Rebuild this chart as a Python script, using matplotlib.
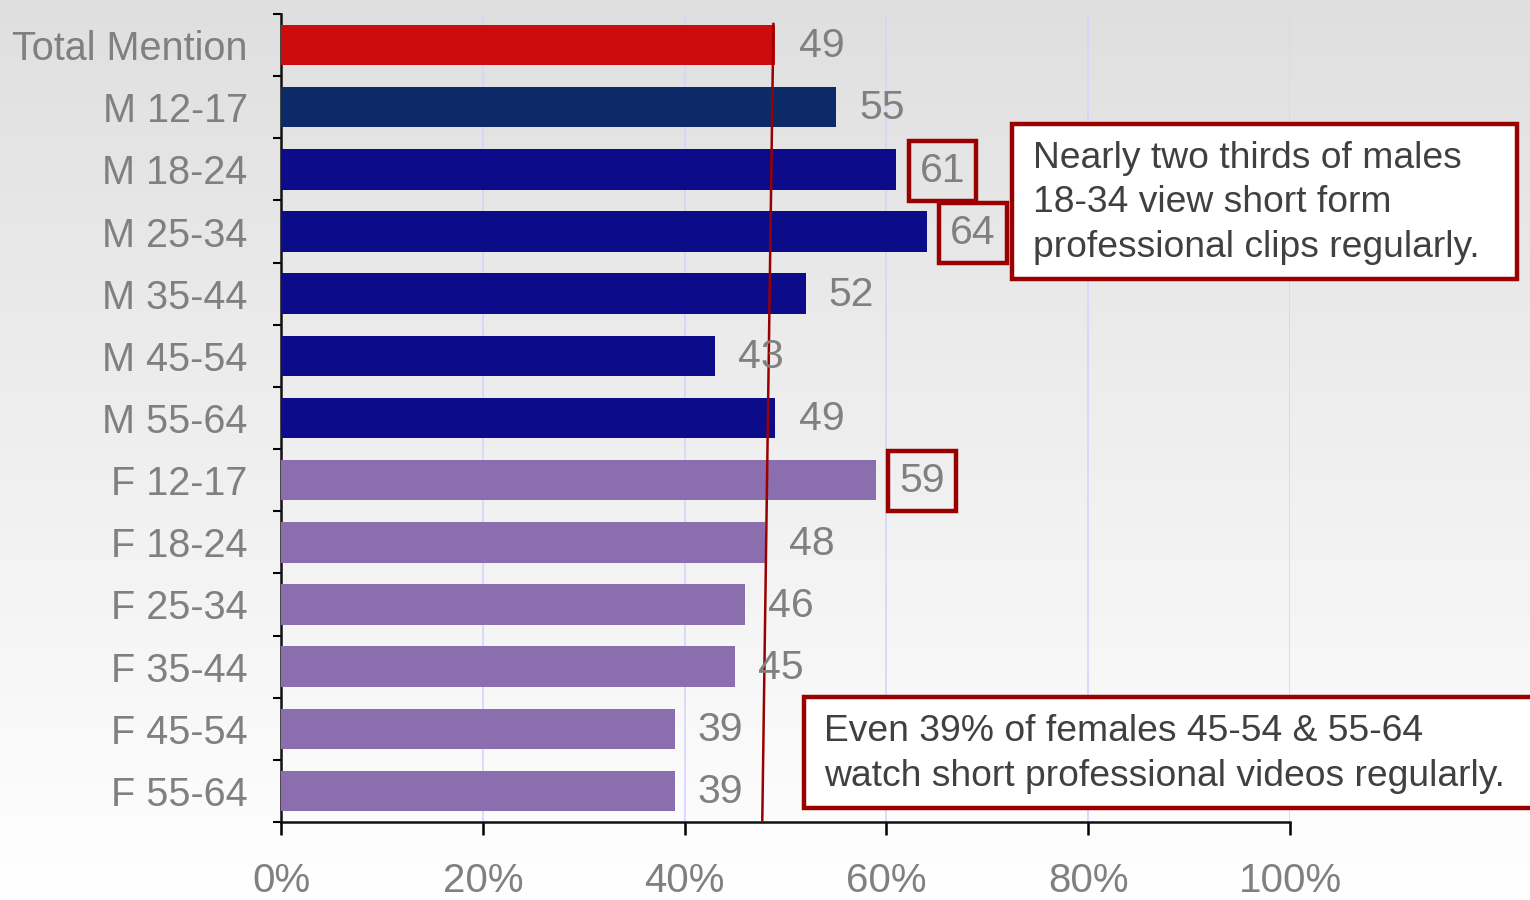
import matplotlib
matplotlib.use("Agg")
import matplotlib.pyplot as plt
import numpy as np
from matplotlib.patches import Rectangle

plt.rcParams['font.family'] = ['Liberation Sans', 'DejaVu Sans']

# datos
categorias = ["Total Mention", "M 12-17", "M 18-24", "M 25-34", "M 35-44", "M 45-54", "M 55-64",
              "F 12-17", "F 18-24", "F 25-34", "F 35-44", "F 45-54", "F 55-64"]
valores = [49, 55, 61, 64, 52, 43, 49, 59, 48, 46, 45, 39, 39]
colores = ["#CC0C0C", "#0C2A68"] + ["#0C0C8A"] * 5 + ["#8A6EAE"] * 6
destacados = ["M 18-24", "M 25-34", "F 12-17"]
linea_ref_x = [48.8, 47.7]
ticks_x = [0, 20, 40, 60, 80, 100]
ticks_x_labels = ["0%", "20%", "40%", "60%", "80%", "100%"]

nota_hombres = "Nearly two thirds of males\n18-34 view short form\nprofessional clips regularly."
nota_mujeres = "Even 39% of females 45-54 & 55-64\nwatch short professional videos regularly."

gris = "#808080"
rojo_borde = "#990000"

fig = plt.figure(figsize=(15.3, 9), dpi=100)

# fondo degradado gris -> blanco
bg = fig.add_axes([0, 0, 1, 1], zorder=-10)
grad = np.linspace(0.875, 1.0, 256).reshape(-1, 1)
bg.imshow(np.dstack([grad, grad, grad]), aspect="auto", extent=[0, 1, 0, 1])
bg.axis("off")

ax = fig.add_axes([281 / 1530, 1 - 822 / 900, (1290 - 281) / 1530, (822 - 14) / 900])
ax.set_facecolor("none")

y = np.arange(len(categorias))
ax.barh(y, valores, height=0.65, color=colores, zorder=3)

for xv in ticks_x[1:]:
    ax.axvline(xv, color="#d4d4ff", lw=1.2, zorder=1)

ax.plot(linea_ref_x, [-0.34, 12.47], color=rojo_borde, lw=1.8, zorder=4)

for yi, (cat, v) in enumerate(zip(categorias, valores)):
    kw = {}
    if cat in destacados:
        kw["bbox"] = dict(boxstyle="square,pad=0.27", fc="none", ec=rojo_borde, lw=3.2)
    ax.text(v + 2.3, yi + 0.02, str(v), va="center", ha="left", fontsize=29.5, color=gris, zorder=5, **kw)

ax.set_xlim(0, 100)
ax.set_ylim(len(categorias) - 0.5, -0.5)
ax.set_xticks(ticks_x)
ax.set_xticklabels(ticks_x_labels)
ax.set_yticks(y)
ax.set_yticklabels(categorias)
ax.set_yticks(np.arange(len(categorias) + 1) - 0.5, minor=True)
ax.tick_params(axis="y", which="major", length=0, pad=24, labelsize=28.5, labelcolor=gris)
ax.tick_params(axis="y", which="minor", length=6, width=1.5, direction="out", color="black")
ax.tick_params(axis="x", length=9, width=1.8, pad=20, labelsize=29, labelcolor=gris)

for s in ["top", "right"]:
    ax.spines[s].set_visible(False)
for s in ["left", "bottom"]:
    ax.spines[s].set_linewidth(1.8)
    ax.spines[s].set_color("#111111")

# cajas de notas
fig.add_artist(Rectangle((1012 / 1530, 1 - 279 / 900), 505 / 1530, 155 / 900,
                         transform=fig.transFigure, fc="white", ec=rojo_borde, lw=3.2, zorder=6))
fig.text(1033 / 1530, 1 - 203 / 900, nota_hombres, ha="left", va="center", fontsize=26.8,
         color="#404040", linespacing=1.34, zorder=7)

fig.add_artist(Rectangle((804 / 1530, 1 - 808 / 900), 740 / 1530, 111 / 900,
                         transform=fig.transFigure, fc="white", ec=rojo_borde, lw=3.2, zorder=6))
fig.text(824 / 1530, 1 - 754 / 900, nota_mujeres, ha="left", va="center", fontsize=26.8,
         color="#404040", linespacing=1.34, zorder=7)

fig.savefig("out.png", dpi=100)
